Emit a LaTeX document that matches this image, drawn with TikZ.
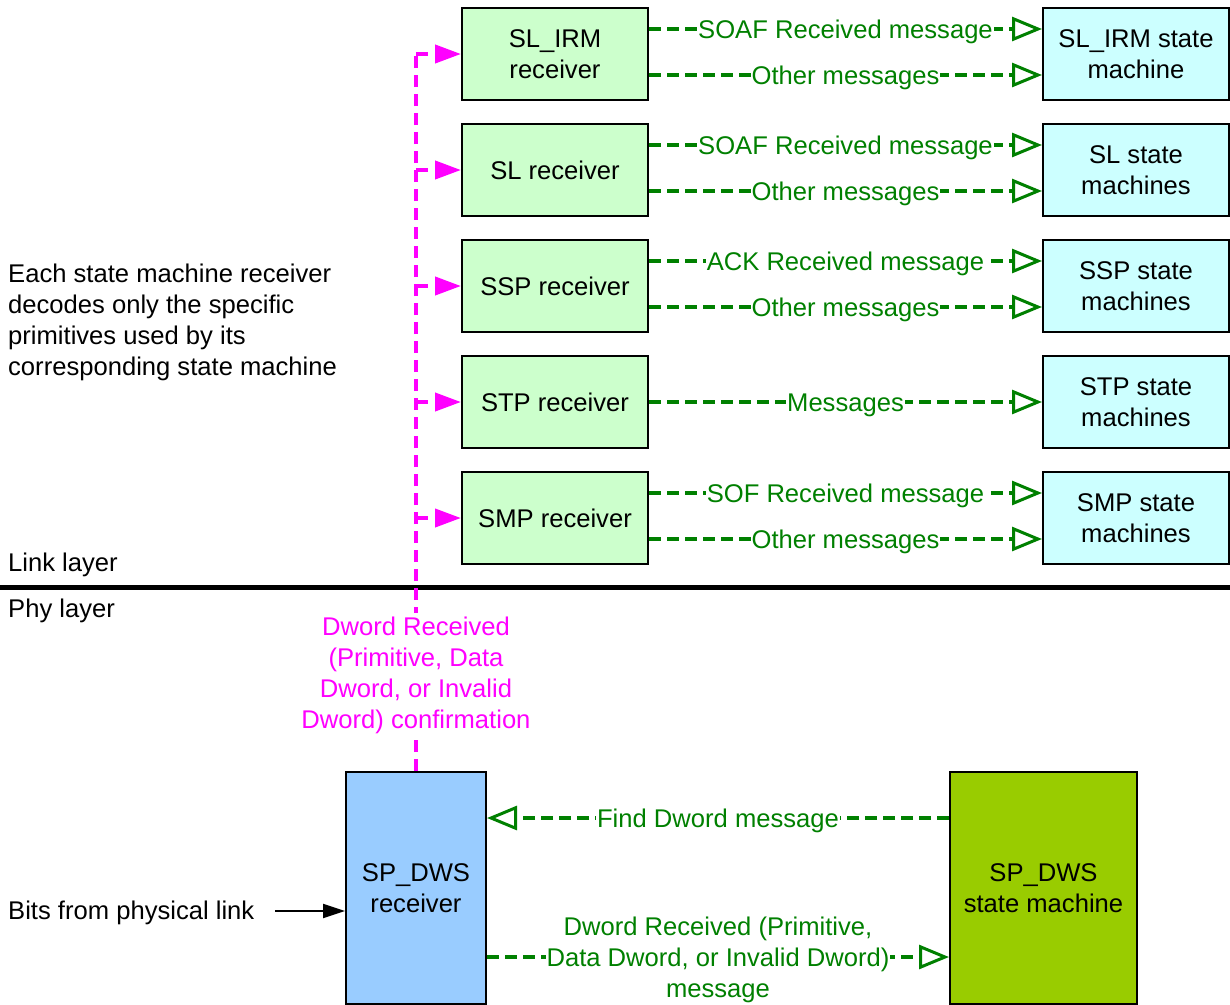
\documentclass[tikz,border=0pt]{standalone}
\usepackage{fontspec}
\setmainfont{Liberation Sans}
\usetikzlibrary{arrows.meta,calc}
\definecolor{grn}{HTML}{008000}
\definecolor{mag}{HTML}{FF00FF}
\definecolor{rfill}{HTML}{CCFFCC}
\definecolor{sfill}{HTML}{CCFFFF}
\definecolor{dwsr}{HTML}{99CCFF}
\definecolor{dwss}{HTML}{99CC00}
\begin{document}
\begin{tikzpicture}[x=1pt,y=-1pt,
  every node/.style={font=\fontsize{25.6}{31}\selectfont},
  box/.style={draw=black,line width=2pt,minimum width=186pt,minimum height=92pt,inner sep=0pt,align=center},
  rcv/.style={box,fill=rfill},
  smb/.style={box,fill=sfill},
  gline/.style={draw=grn,line width=3.5pt,dash pattern=on 12pt off 6pt,-{Triangle[open,length=30pt,width=24pt,line width=3pt]}},
  glab/.style={fill=white,text=grn,inner xsep=1pt,inner ysep=0pt,align=center,yshift=-3pt},
  mline/.style={draw=mag,line width=4pt,dash pattern=on 12pt off 7pt},
  marr/.style={mline,-{Triangle[length=26pt,width=18pt]}},
  txt/.style={anchor=west,align=left,inner sep=0pt},
]
\useasboundingbox (0,0) rectangle (1230,1004);

% receivers
\node[rcv] (r1) at (555,54) {SL\_IRM\\receiver};
\node[rcv] (r2) at (555,170) {SL receiver};
\node[rcv] (r3) at (555,286) {SSP receiver};
\node[rcv] (r4) at (555,402) {STP receiver};
\node[rcv] (r5) at (555,518) {SMP receiver};
% state machines
\node[smb] (s1) at (1136,54) {SL\_IRM state\\machine};
\node[smb] (s2) at (1136,170) {SL state\\machines};
\node[smb] (s3) at (1136,286) {SSP state\\machines};
\node[smb] (s4) at (1136,402) {STP state\\machines};
\node[smb] (s5) at (1136,518) {SMP state\\machines};

% green arrows
\draw[gline] ($(r1.north east)+(0,22)$) -- node[glab]{SOAF Received message} ($(s1.north west)+(0,22)$);
\draw[gline] ($(r1.north east)+(0,68)$) -- node[glab]{Other messages} ($(s1.north west)+(0,68)$);
\draw[gline] ($(r2.north east)+(0,22)$) -- node[glab]{SOAF Received message} ($(s2.north west)+(0,22)$);
\draw[gline] ($(r2.north east)+(0,68)$) -- node[glab]{Other messages} ($(s2.north west)+(0,68)$);
\draw[gline] ($(r3.north east)+(0,22)$) -- node[glab]{ACK Received message} ($(s3.north west)+(0,22)$);
\draw[gline] ($(r3.north east)+(0,68)$) -- node[glab]{Other messages} ($(s3.north west)+(0,68)$);
\draw[gline] (r4.east) -- node[glab]{Messages} (s4.west);
\draw[gline] ($(r5.north east)+(0,22)$) -- node[glab]{SOF Received message} ($(s5.north west)+(0,22)$);
\draw[gline] ($(r5.north east)+(0,68)$) -- node[glab]{Other messages} ($(s5.north west)+(0,68)$);

% layer separator
\coordinate (sepl) at (0,587);
\coordinate (sepr) at (1230,587);
\draw[line width=5pt] (sepl) -- (sepr);

% bottom boxes
\node[draw=black,line width=2pt,fill=dwsr,minimum width=140pt,minimum height=232pt,inner sep=0pt,align=center] (rx) at (416,888) {SP\_DWS\\receiver};
\node[draw=black,line width=2pt,fill=dwss,minimum width=187pt,minimum height=232pt,inner sep=0pt,align=center] (sm) at (1043.5,888) {SP\_DWS\\state machine};

\draw[gline] ($(sm.north west)+(0,47)$) -- node[glab]{Find Dword message} ($(rx.north east)+(0,47)$);
\draw[gline] ($(rx.north east)+(0,186)$) -- node[glab]{Dword Received (Primitive,\\Data Dword, or Invalid Dword)\\message} ($(sm.north west)+(0,186)$);

% magenta confirmation
\coordinate (mtop) at (416,54);
\draw[mline] (rx.north) -- (mtop);
\draw[marr] (mtop) -- (r1.west);
\draw[marr] (rx.north |- r2.west) -- (r2.west);
\draw[marr] (rx.north |- r3.west) -- (r3.west);
\draw[marr] (rx.north |- r4.west) -- (r4.west);
\draw[marr] (rx.north |- r5.west) -- (r5.west);
\node[fill=white,text=mag,align=center,inner xsep=2pt,inner ysep=4pt] (mlab) at (416,675) {Dword Received\\(Primitive, Data\\Dword, or Invalid\\Dword) confirmation};

% texts
\node[txt] (note) at (8,322) {Each state machine receiver\\decodes only the specific\\primitives used by its\\corresponding state machine};
\node[txt] (link) at (8,565) {Link layer};
\node[txt] (phy) at (8,611) {Phy layer};
\node[txt] (bits) at (8,913) {Bits from physical link};
\coordinate (bitsend) at (275,911);
\draw[line width=2pt,-{Triangle[length=22pt,width=14pt]}] (bitsend) -- (bitsend -| rx.west);
\end{tikzpicture}
\end{document}
